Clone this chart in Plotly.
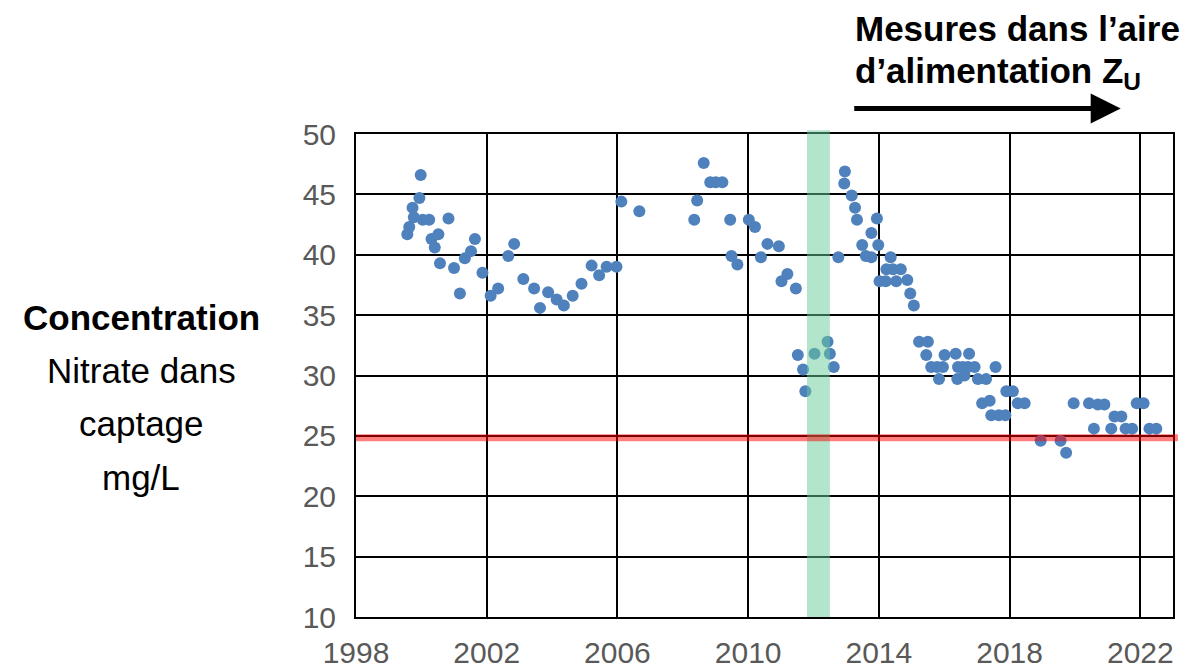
import plotly.graph_objects as go

# Decimal years of measurements
years = [1999.57, 1999.63, 1999.73, 1999.77, 1999.94, 1999.98, 2000.04, 2000.24, 2000.31, 2000.41,
         2000.52, 2000.57, 2000.83, 2001.00, 2001.18, 2001.33, 2001.52, 2001.64, 2001.87, 2002.12,
         2002.35, 2002.66, 2002.84, 2003.12, 2003.45, 2003.63, 2003.88, 2004.14, 2004.36, 2004.63,
         2004.90, 2005.21, 2005.44, 2005.67, 2005.97, 2006.12, 2006.67, 2008.35, 2008.44, 2008.64,
         2008.84, 2009.01, 2009.21, 2009.45, 2009.49, 2009.67, 2010.02, 2010.21, 2010.39, 2010.59,
         2010.94, 2011.02, 2011.20, 2011.46, 2011.52, 2011.68, 2011.75, 2012.03, 2012.43, 2012.50,
         2012.62, 2012.76, 2012.94, 2012.96, 2013.17, 2013.27, 2013.33, 2013.49, 2013.60, 2013.77,
         2013.77, 2013.94, 2013.98, 2014.02, 2014.21, 2014.23, 2014.36, 2014.43, 2014.53, 2014.67,
         2014.87, 2014.96, 2015.07, 2015.23, 2015.45, 2015.50, 2015.60, 2015.78, 2015.84, 2015.96,
         2016.01, 2016.35, 2016.40, 2016.42, 2016.57, 2016.62, 2016.73, 2016.76, 2016.93, 2017.03,
         2017.16, 2017.28, 2017.39, 2017.44, 2017.57, 2017.67, 2017.87, 2017.90, 2018.10, 2018.25,
         2018.46, 2018.95, 2019.56, 2019.73, 2019.96, 2020.43, 2020.58, 2020.70, 2020.90, 2021.11,
         2021.21, 2021.42, 2021.55, 2021.75, 2021.89, 2022.10, 2022.28, 2022.49]

# Nitrate concentration (mg/L)
nitrate = [41.7, 42.3, 43.9, 43.1, 44.7, 46.6, 42.9, 42.9, 41.3, 40.6,
           41.7, 39.3, 43.0, 38.9, 36.8, 39.7, 40.3, 41.3, 38.5, 36.6,
           37.2, 39.9, 40.9, 38.0, 37.2, 35.6, 36.9, 36.3, 35.8, 36.6,
           37.6, 39.1, 38.3, 39.0, 39.0, 44.4, 43.6, 42.9, 44.5, 47.6,
           46.0, 46.0, 46.0, 42.9, 39.9, 39.2, 42.9, 42.3, 39.8, 40.9,
           40.7, 37.8, 38.4, 37.2, 31.7, 30.5, 28.7, 31.8, 32.8, 31.8,
           30.7, 39.8, 45.9, 46.9, 44.9, 43.9, 42.9, 40.8, 39.9, 39.8,
           41.8, 43.0, 40.8, 37.8, 37.8, 38.8, 39.8, 38.8, 37.8, 38.8,
           37.9, 36.8, 35.8, 32.8, 31.7, 32.8, 30.7, 30.7, 29.7, 30.7,
           31.7, 31.8, 29.7, 30.7, 30.7, 30.0, 30.7, 31.8, 30.7, 29.7,
           27.7, 29.7, 27.9, 26.7, 30.7, 26.7, 26.7, 28.7, 28.7, 27.7,
           27.7, 24.6, 24.6, 23.6, 27.7, 27.7, 25.6, 27.6, 27.6, 25.6,
           26.6, 26.6, 25.6, 25.6, 27.7, 27.7, 25.6, 25.6]

x_ticks = [1998, 2002, 2006, 2010, 2014, 2018, 2022]
y_ticks = [10, 15, 20, 25, 30, 35, 40, 45, 50]
threshold = 24.85
band_start, band_end = 2011.8, 2012.5
arrow_start, arrow_end = 2013.2, 2021.4

fig = go.Figure()
fig.add_trace(go.Scatter(
    x=years, y=nitrate, mode="markers",
    marker=dict(size=12, color="#4F81BD"),
    showlegend=False, hoverinfo="x+y"))

# green highlighted period
fig.add_shape(type="rect", xref="x", yref="paper", x0=band_start, x1=band_end, y0=0, y1=1.008,
              fillcolor="rgba(102,204,153,0.5)", line=dict(width=0), layer="above")
# red threshold line
fig.add_shape(type="line", xref="paper", yref="y", x0=0, x1=1.006, y0=threshold, y1=threshold,
              line=dict(color="rgba(255,0,0,0.5)", width=7), layer="above")

font_family = "Liberation Sans, Arial, sans-serif"
tick_font = dict(family=font_family, size=30, color="#595959")

fig.update_xaxes(range=[1998, 2023], tickvals=x_ticks, ticktext=[str(v) for v in x_ticks],
                 showgrid=True, gridcolor="black", gridwidth=1.5,
                 showline=True, linecolor="black", linewidth=2, mirror=True,
                 zeroline=False, tickfont=tick_font, ticks="outside", ticklen=8,
                 tickcolor="rgba(0,0,0,0)", automargin=False)
fig.update_yaxes(range=[10, 50], tickvals=y_ticks,
                 showgrid=True, gridcolor="black", gridwidth=1.5,
                 showline=True, linecolor="black", linewidth=2, mirror=True,
                 zeroline=False, tickfont=tick_font, ticks="outside", ticklen=12,
                 tickcolor="rgba(0,0,0,0)", automargin=False)

# plot area in page pixels: left 356, right 1173, top 133.5, bottom 617.5
PL, PW, PB, PH = 356, 817, 617.5, 484

annotations = []
# left title lines
left_lines = [("<b>Concentration</b>", 317), ("Nitrate dans", 370), ("captage", 424), ("mg/L", 478)]
for txt, ypx in left_lines:
    annotations.append(dict(text=txt, xref="paper", yref="paper",
                            x=(141 - PL) / PW, y=(PB - ypx) / PH,
                            xanchor="center", yanchor="middle", showarrow=False,
                            font=dict(family=font_family, size=35, color="black")))
# top-right label
annotations.append(dict(text="<b>Mesures dans l’aire</b>", xref="x", yref="paper",
                        x=arrow_start, y=(PB - 28) / PH, xanchor="left", yanchor="middle",
                        showarrow=False, font=dict(family=font_family, size=35, color="black")))
annotations.append(dict(text="<b>d’alimentation Z<sub>U</sub></b>", xref="x", yref="paper",
                        x=arrow_start, y=(PB - 72) / PH, xanchor="left", yanchor="middle",
                        showarrow=False, font=dict(family=font_family, size=35, color="black")))
# arrow
annotations.append(dict(text="", xref="x", yref="paper", axref="x", ayref="pixel",
                        x=arrow_end, y=(PB - 108) / PH,
                        ax=arrow_start, ay=0,
                        showarrow=True, arrowhead=2, arrowsize=1.2, arrowwidth=5,
                        arrowcolor="black", standoff=0))

# the page body adds an 8px offset; compensate so the plot lands at the target pixels
fig.update_layout(
    width=1187, height=664,
    margin=dict(l=PL - 8, r=1195 - (PL + PW), t=133.5 - 8, b=672 - PB),
    plot_bgcolor="white", paper_bgcolor="white",
    annotations=annotations,
)

fig.write_html("out.html")
